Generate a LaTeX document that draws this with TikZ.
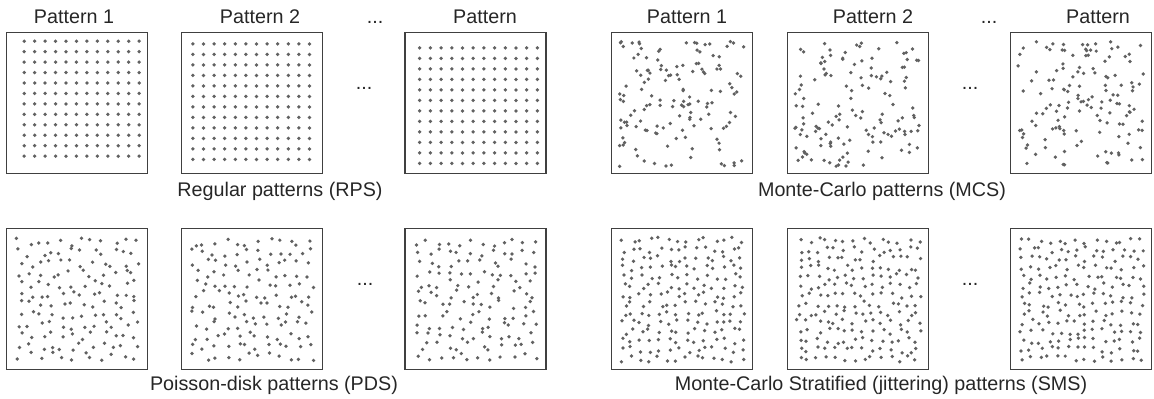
\documentclass[tikz,border=0pt]{standalone}
\usepackage{fontspec}
\setmainfont{Liberation Sans}
\usetikzlibrary{positioning}

\begin{document}
\begin{tikzpicture}[
    x=0.75pt, y=-0.75pt,
    panel/.style={rectangle, draw=black!75, line width=0.9pt, minimum width=105.75pt, minimum height=105.75pt, inner sep=0pt},
    label/.style={font=\fontsize{14.8}{16}\selectfont, text=black!85, anchor=base, inner sep=0pt},
    dot/.style={fill=black!62}
]
\useasboundingbox (0,0) rectangle (1154,399);

% Panels, top row
\node[panel] (rps1) at (77,103) {};
\node[panel] (rps2) at (252,103) {};
\node[panel] (rps3) at (475.5,103) {};
\node[panel] (mcs1) at (682,103) {};
\node[panel] (mcs2) at (858,103) {};
\node[panel] (mcs3) at (1081,103) {};

% Panels, bottom row
\node[panel] (pds1) at (77,299) {};
\node[panel] (pds2) at (252,299) {};
\node[panel] (pds3) at (475.5,299) {};
\node[panel] (sms1) at (682,299) {};
\node[panel] (sms2) at (858,299) {};
\node[panel] (sms3) at (1081,299) {};

% Titles
\node[label] (t1) at (74,23.5) {Pattern 1};
\node[label] (t2) at (260,23.5) {Pattern 2};
\node[label] (t3) at (375,23.5) {...};
\node[label] (t4) at (485,23.5) {Pattern};
\node[label] (t5) at (687,23.5) {Pattern 1};
\node[label] (t6) at (873,23.5) {Pattern 2};
\node[label] (t7) at (989,23.5) {...};
\node[label] (t8) at (1098,23.5) {Pattern};

% Ellipses between panels
\node[label] (e1) at (364,89.5) {...};
\node[label] (e2) at (970,89.5) {...};
\node[label] (e3) at (365,286) {...};
\node[label] (e4) at (970,286) {...};

% Captions
\node[label] (rps) at (280,197) {Regular patterns (RPS)};
\node[label] (mcs) at (882,197) {Monte-Carlo patterns (MCS)};
\node[label] (pds) at (274,390) {Poisson-disk patterns (PDS)};
\node[label] (sms) at (881,390) {Monte-Carlo Stratified (jittering) patterns (SMS)};

% Regular grids
\foreach \p/\ox/\oy/\sx/\sy in {rps1/18.3/9.3/10.45/10.45, rps2/12/12/10.6/10.5, rps3/15.3/16/10.7/10.5} {
    \begin{scope}[shift={(\p.north west)}]
        \foreach \i in {0,...,11}
            \foreach \j in {0,...,11}
                \fill[dot] ({\ox+\i*\sx}, {\oy+\j*\sy}) circle[radius=1.4pt];
    \end{scope}
}

% Monte-Carlo
\foreach \p/\s in {mcs1/11, mcs2/23, mcs3/37} {
    \pgfmathsetseed{\s}
    \begin{scope}[shift={(\p.north west)}]
        \foreach \k in {1,...,140}
            \fill[dot] ({8+126*rnd}, {9+126*rnd}) circle[radius=1.4pt];
    \end{scope}
}

% Poisson-disk (loose jitter)
\foreach \p/\s in {pds1/5, pds2/17, pds3/29} {
    \pgfmathsetseed{\s}
    \begin{scope}[shift={(\p.north west)}]
        \foreach \i in {0,...,11}
            \foreach \j in {0,...,11}
                \fill[dot] ({9+(\i+0.5+0.8*(rnd-0.5))*10.4}, {9+(\j+0.5+0.8*(rnd-0.5))*10.4}) circle[radius=1.4pt];
    \end{scope}
}

% Stratified (tight jitter)
\foreach \p/\s in {sms1/7, sms2/19, sms3/31} {
    \pgfmathsetseed{\s}
    \begin{scope}[shift={(\p.north west)}]
        \foreach \i in {0,...,13}
            \foreach \j in {0,...,13}
                \fill[dot] ({8+(\i+0.5+0.7*(rnd-0.5))*9.1}, {8+(\j+0.5+0.7*(rnd-0.5))*9.1}) circle[radius=1.4pt];
    \end{scope}
}

\end{tikzpicture}
\end{document}
